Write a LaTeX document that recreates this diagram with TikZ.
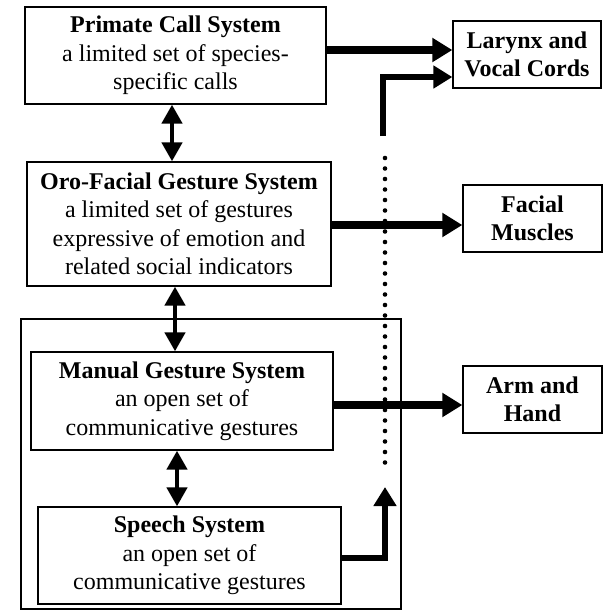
\documentclass[tikz,border=0pt]{standalone}
\usepackage{fontspec}
\setmainfont{Liberation Serif}
\usetikzlibrary{arrows.meta}
\begin{document}
\begin{tikzpicture}[x=1pt,y=-1pt,
  box/.style={draw, line width=1.3pt, inner sep=0pt, align=center,
    font=\fontsize{24}{28.5}\selectfont},
  bigarr/.style={line width=7.5pt, -{Triangle[length=20pt,width=23pt]}},
  midarr/.style={line width=6pt, -{Triangle[length=19pt,width=22pt]}},
  dblarr/.style={line width=4.5pt, {Triangle[length=19pt,width=20pt]}-{Triangle[length=19pt,width=20pt]}},
  dotline/.style={line width=4.6pt, line cap=round, dash pattern=on 0pt off 10.5pt}]
\useasboundingbox (0,0) rectangle (604,614);
% outer frame
\node[draw, line width=2.5pt, minimum width=380pt, minimum height=290pt, inner sep=0pt] (frame) at (211,464) {};
% left boxes
\node[box, minimum width=301pt, minimum height=97pt] (pc) at (175.5,55.5)
  {\textbf{Primate Call System}\\a limited set of species-\\specific calls};
\node[box, minimum width=304pt, minimum height=124pt] (oro) at (179,224)
  {\textbf{Oro-Facial Gesture System}\\a limited set of gestures\\expressive of emotion and\\related social indicators};
\node[box, minimum width=302pt, minimum height=98pt] (man) at (182,401)
  {\textbf{Manual Gesture System}\\an open set of\\communicative gestures};
\node[box, minimum width=303pt, minimum height=97pt] (sp) at (189.5,555.5)
  {\textbf{Speech System}\\an open set of\\communicative gestures};
% right boxes
\node[box, minimum width=148pt, minimum height=67pt] (lar) at (527,54.5)
  {\textbf{Larynx and}\\\textbf{Vocal Cords}};
\node[box, minimum width=139pt, minimum height=67pt] (fac) at (532.5,218.5)
  {\textbf{Facial}\\\textbf{Muscles}};
\node[box, minimum width=139pt, minimum height=67pt] (arm) at (532.5,399.5)
  {\textbf{Arm and}\\\textbf{Hand}};
% helper coordinates
\coordinate (y50) at (0,50);
\coordinate (y77) at (0,77);
\coordinate (y225) at (0,225);
\coordinate (y405) at (0,405);
\coordinate (y558) at (0,558);
\coordinate (x172) at (172,0);
\coordinate (x175) at (175,0);
\coordinate (x177) at (177,0);
\coordinate (vstart) at (383,136);
\coordinate (dtop) at (385,158);
\coordinate (dbot) at (385,470);
\coordinate (sptip) at (385,487);
% dotted line
\draw[dotline] (dtop) -- (dbot);
% horizontal arrows
\draw[bigarr] (pc.east |- y50) -- (lar.west |- y50);
\draw[midarr] (vstart) |- (lar.west |- y77);
\draw[bigarr] (oro.east |- y225) -- (fac.west |- y225);
\draw[bigarr] (man.east |- y405) -- (arm.west |- y405);
\draw[midarr] (sp.east |- y558) -| (sptip);
% double arrows
\draw[dblarr] (pc.south -| x172) -- (oro.north -| x172);
\draw[dblarr] (oro.south -| x175) -- (man.north -| x175);
\draw[dblarr] (man.south -| x177) -- (sp.north -| x177);
\end{tikzpicture}
\end{document}
